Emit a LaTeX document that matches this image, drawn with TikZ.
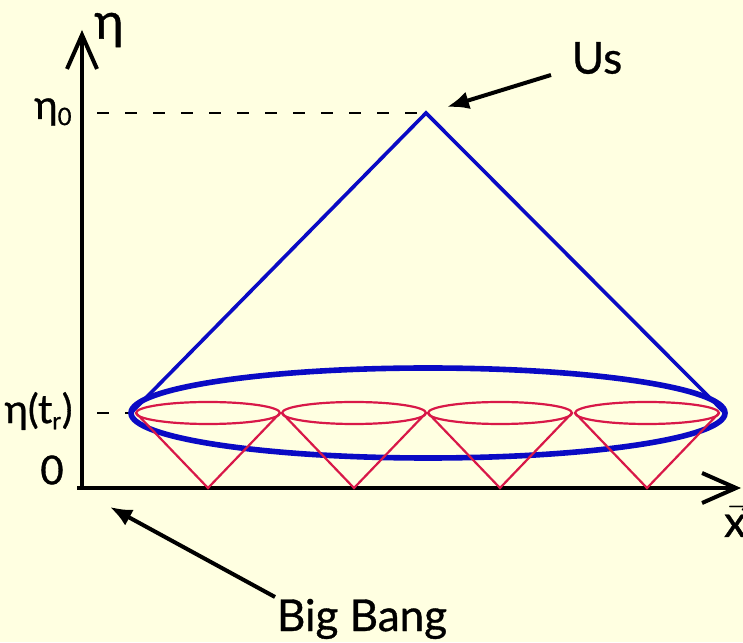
\documentclass[tikz,border=0pt]{standalone}
\usepackage{amsmath}
\usepackage{fontspec}
\setmainfont{Lato}[FakeBold=0.8]
\usetikzlibrary{arrows.meta,positioning}
\definecolor{paper}{HTML}{FFFFE1}
\definecolor{conered}{HTML}{D81848}
\definecolor{coneblue}{HTML}{0A0AC4}

\begin{document}
\begin{tikzpicture}[x=0.5pt,y=0.5pt,
  axis/.style={line width=2pt,-{Straight Barb[length=17pt,width=15pt]}},
  pointer/.style={line width=2pt,-{Latex[length=11pt,width=9pt]}},
  lbl/.style={font=\fontsize{20}{24}\selectfont,inner sep=0pt}]
% background and page size
\fill[paper] (0,0) rectangle (743,642);
\useasboundingbox (0,0) rectangle (743,642);
% axes
\coordinate (O) at (82,154);
\coordinate (ytop) at (82,612);
\coordinate (xleft) at (77,154);
\coordinate (xright) at (741,154);
\draw[axis] (O) -- (ytop);
\draw[axis] (xleft) -- (xright);
\node[lbl,font=\fontsize{25}{28}\selectfont] (eta) at (109,612) {η};
\node[lbl,font=\fontsize{22}{26}\selectfont] (xvec) at (735,122) {$\vec{\text{x}}$};
\node[lbl] (zero) at (52,172) {0};
% times on the axis
\node[lbl,anchor=east] (eta0) at (73,530) {η\textsubscript{\fontsize{12}{14}\selectfont 0}};
\node[lbl,anchor=east] (etatr) at (73,231) {η(t\textsubscript{\fontsize{12}{14}\selectfont r})};
% our past light cone
\coordinate (us) at (426,529);
\coordinate (left) at (131,229);
\coordinate (right) at (725,229);
\coordinate (dash0) at (97,529);
\coordinate (dashr) at (97,229);
\draw[line width=0.9pt,dash pattern=on 6pt off 8pt] (dash0) -- (us);
\draw[line width=0.9pt,dash pattern=on 6pt off 8pt] (dashr) -- (left);
\draw[coneblue,line width=1.8pt] (left) -- (us) -- (right);
\draw[coneblue,line width=2.8pt] (428,229) ellipse [x radius=297,y radius=45];
% small future cones from the big bang
\foreach \cx in {208,354,500,647}{
  \draw[conered,line width=1.1pt] (\cx,229) ellipse [x radius=72,y radius=11];
  \draw[conered,line width=1.1pt] (\cx-72,229) -- (\cx,154) -- (\cx+72,229);
}
% labels with pointers
\node[lbl,font=\fontsize{22}{26}\selectfont] (uslbl) at (597,584) {Us};
\coordinate (ustail) at (551,567);
\coordinate (ustip) at (447,535);
\draw[pointer] (ustail) -- (ustip);
\node[lbl,font=\fontsize{22}{26}\selectfont] (bb) at (362,23) {Big Bang};
\coordinate (bbtail) at (275,45);
\coordinate (bbtip) at (110,135);
\draw[pointer] (bbtail) -- (bbtip);
\end{tikzpicture}
\end{document}
